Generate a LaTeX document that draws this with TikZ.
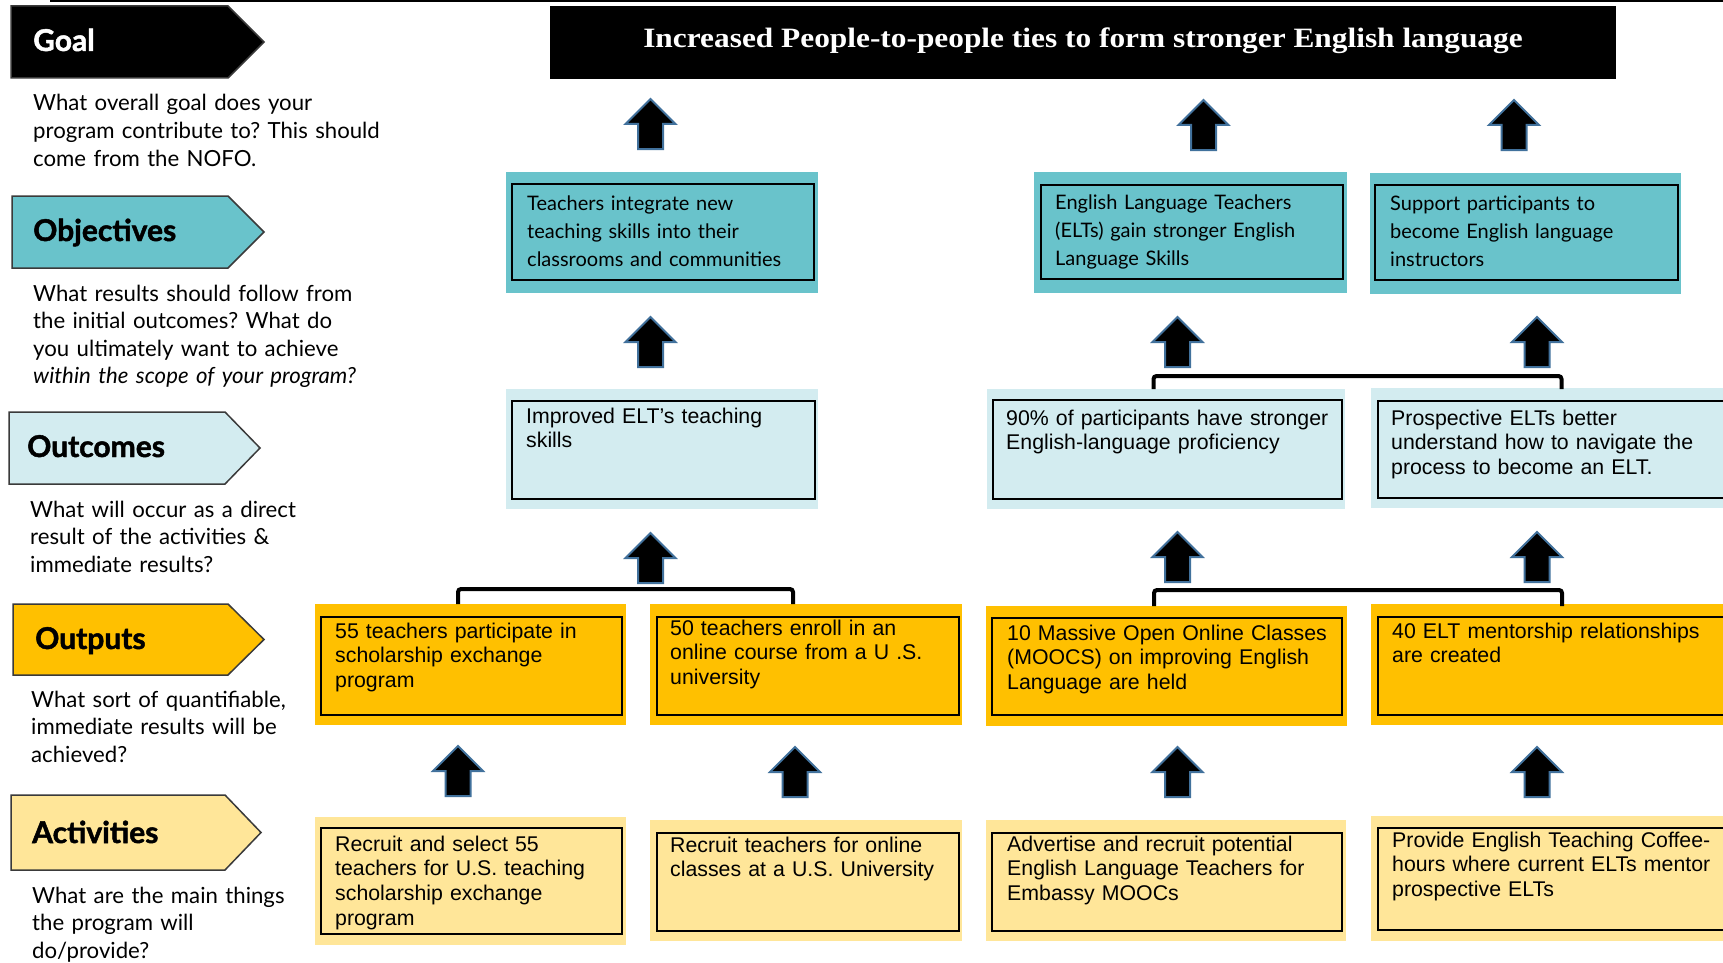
\documentclass[tikz,border=0pt]{standalone}
\usepackage{fontspec}
\setmainfont{Liberation Sans}
\newfontfamily\gillf{Lato}
\newfontfamily\gillh[BoldFeatures={FakeBold=1.6}]{Lato}
\newfontfamily\titlef[FakeStretch=1.12]{Liberation Serif}
\definecolor{objc}{HTML}{69C3CB}
\definecolor{outc}{HTML}{D3ECF0}
\definecolor{putc}{HTML}{FFC000}
\definecolor{actc}{HTML}{FFE699}
\definecolor{arrblue}{HTML}{41719C}
\definecolor{labline}{HTML}{3A3A3A}
\frenchspacing
\tikzset{
  ibox/.style={draw=black, line width=2.2pt, inner sep=0, anchor=north west},
  labshape/.style={draw=labline, line width=1.5pt, line join=miter},
  labtxt/.style={font=\gillh\bfseries\fontsize{30}{36}\selectfont, anchor=base west, inner sep=0},
  desctxt/.style={font=\gillf\fontsize{22.2}{27.6}\selectfont\frenchspacing, anchor=base west, inner sep=0, text width=420pt, align=left},
  objtxt/.style={font=\gillf\fontsize{20}{28}\selectfont\frenchspacing, anchor=base west, inner sep=0, text width=330pt, align=left},
  boxtxt/.style={font=\fontsize{21.3}{24.7}\selectfont\frenchspacing, anchor=base west, inner sep=0, text width=340pt, align=left},
  blockarr/.style={fill=black, draw=arrblue, line width=2pt, line join=miter},
  bracket/.style={draw=black, line width=4pt, rounded corners=3pt},
}
\newcommand\ibx[5]{\node[ibox, minimum width={(#4)-(#2)}, minimum height={(#5)-(#3)}] (#1) at (#2,#3) {};}
\newcommand\barr[3]{\path[blockarr] ({#2-12.5},{#3+50}) -- ({#2-12.5},{#3+25}) -- ({#2-25},{#3+25}) -- (#2,#3) -- ({#2+25},{#3+25}) -- ({#2+12.5},{#3+25}) -- ({#2+12.5},{#3+50}) -- cycle; \coordinate (#1) at (#2,#3);}
\newcommand\lab[7]{\path[labshape,fill=#2] (#3,#4) -- (#5,#4) -- (#6,{(#4+#7)/2}) -- (#5,#7) -- (#3,#7) -- cycle; \coordinate (#1) at (#6,{(#4+#7)/2});}
\begin{document}
\begin{tikzpicture}[x=1pt,y=-1pt]
\path[use as bounding box] (0,0) rectangle (1723,963);
\clip (0,0) rectangle (1723,963);
\fill[white] (0,0) rectangle (1723,963);
\fill[black] (50,0) rectangle (1723,2.5);

% ---------- left column labels ----------
\lab{goalL}{black}{11}{6}{228}{264}{78}
\lab{objL}{objc}{12}{196}{228}{264}{268}
\lab{outL}{outc}{9}{412}{225}{260}{484}
\lab{putL}{putc}{13}{604}{228}{264}{675}
\lab{actL}{actc}{11}{795}{225}{261}{870}

\node[labtxt, text=white] (goalLt) at (33,51) {Goal};
\node[labtxt] (objLt) at (33,241) {Objectives};
\node[labtxt] (outLt) at (27,457) {Outcomes};
\node[labtxt] (putLt) at (35,649) {Outputs};
\node[labtxt] (actLt) at (32,843) {Activities};

\node[desctxt] (goalD) at (33,111) {What overall goal does your\\program contribute to? This should\\come from the NOFO.};
\node[desctxt] (objD) at (33,301) {What results should follow from\\the initial outcomes? What do\\you ultimately want to achieve\\\textit{within the scope of your program?}};
\node[desctxt] (outD) at (30,517) {What will occur as a direct\\result of the activities \&\\immediate results?};
\node[desctxt] (putD) at (31,707) {What sort of quantifiable,\\immediate results will be\\achieved?};
\node[desctxt] (actD) at (32,903) {What are the main things\\the program will\\do/provide?};

% ---------- goal ----------
\node[fill=black, inner sep=0, anchor=north west, minimum width=1066, minimum height=73] (goal) at (550,6) {};
\node[font=\titlef\bfseries\fontsize{28}{32}\selectfont, text=white, anchor=base, inner sep=0] (goalt) at (1083,48) {Increased People-to-people ties to form stronger English language};

% ---------- objectives ----------
\fill[objc] (506,172) rectangle (818,293); \ibx{o1}{511}{183}{813}{279}
\node[objtxt] (o1t) at (527,210) {Teachers integrate new\\teaching skills into their\\classrooms and communities};
\fill[objc] (1034,172) rectangle (1347,293); \ibx{o2}{1040}{184}{1342}{278}
\node[objtxt] (o2t) at (1055,209) {English Language Teachers\\(ELTs) gain stronger English\\Language Skills};
\fill[objc] (1370,173) rectangle (1681,294); \ibx{o3}{1374}{184}{1677}{279}
\node[objtxt] (o3t) at (1390,210) {Support participants to\\become English language\\instructors};

% ---------- outcomes ----------
\fill[outc] (506,389) rectangle (818,509); \ibx{c1}{511}{400}{814}{498}
\node[boxtxt] (c1t) at (526,423) {Improved ELT’s teaching\\skills};
\fill[outc] (987,389) rectangle (1345,509); \ibx{c2}{992}{399}{1341}{498}
\node[boxtxt] (c2t) at (1006,425) {90\% of participants have stronger\\English-language proficiency};
\fill[outc] (1371,388) rectangle (1740,508); \ibx{c3}{1377}{400}{1745}{497}
\node[boxtxt] (c3t) at (1391,425) {Prospective ELTs better\\understand how to navigate the\\process to become an ELT.};

% ---------- outputs ----------
\fill[putc] (315,604) rectangle (626,725); \ibx{p1}{320}{616}{621}{714}
\node[boxtxt] (p1t) at (335,638) {55 teachers participate in\\scholarship exchange\\program};
\fill[putc] (650,604) rectangle (962,725); \ibx{p2}{656}{616}{958}{714}
\node[boxtxt] (p2t) at (670,635) {50 teachers enroll in an\\online course from a U .S.\\university};
\fill[putc] (986,606) rectangle (1347,726); \ibx{p3}{991}{617}{1341}{714}
\node[boxtxt] (p3t) at (1007,640) {10 Massive Open Online Classes\\(MOOCS) on improving English\\Language are held};
\fill[putc] (1371,604) rectangle (1740,725); \ibx{p4}{1377}{616}{1745}{714}
\node[boxtxt] (p4t) at (1392,638) {40 ELT mentorship relationships\\are created};

% ---------- activities ----------
\fill[actc] (315,817) rectangle (626,945); \ibx{a1}{320}{827}{621}{933}
\node[boxtxt] (a1t) at (335,851) {Recruit and select 55\\teachers for U.S. teaching\\scholarship exchange\\program};
\fill[actc] (650,820) rectangle (962,941); \ibx{a2}{656}{832}{958}{930}
\node[boxtxt] (a2t) at (670,852) {Recruit teachers for online\\classes at a U.S. University};
\fill[actc] (986,820) rectangle (1346,941); \ibx{a3}{991}{832}{1341}{930}
\node[boxtxt] (a3t) at (1007,851) {Advertise and recruit potential\\English Language Teachers for\\Embassy MOOCs};
\fill[actc] (1371,816) rectangle (1740,941); \ibx{a4}{1377}{827}{1745}{929}
\node[boxtxt] (a4t) at (1392,847) {Provide English Teaching Coffee-\\hours where current ELTs mentor\\prospective ELTs};

% ---------- brackets ----------
\draw[bracket] (458,604) |- (793,589) -- (793,604);
\draw[bracket] (1154,606) |- (1562,590) -- (1562,606);
\draw[bracket] (1153.5,389) |- (1561.5,376) -- (1561.5,389);

% ---------- block arrows ----------
\barr{aA1}{650.5}{99} \barr{aA2}{1203.5}{100} \barr{aA3}{1514}{100}
\barr{aB1}{650.5}{317} \barr{aB2}{1177.5}{317} \barr{aB3}{1537}{317}
\barr{aC1}{650.5}{533} \barr{aC2}{1177.5}{532} \barr{aC3}{1537}{532}
\barr{aD1}{458}{746} \barr{aD2}{795}{747} \barr{aD3}{1177.5}{747} \barr{aD4}{1537}{747}
\end{tikzpicture}
\end{document}
